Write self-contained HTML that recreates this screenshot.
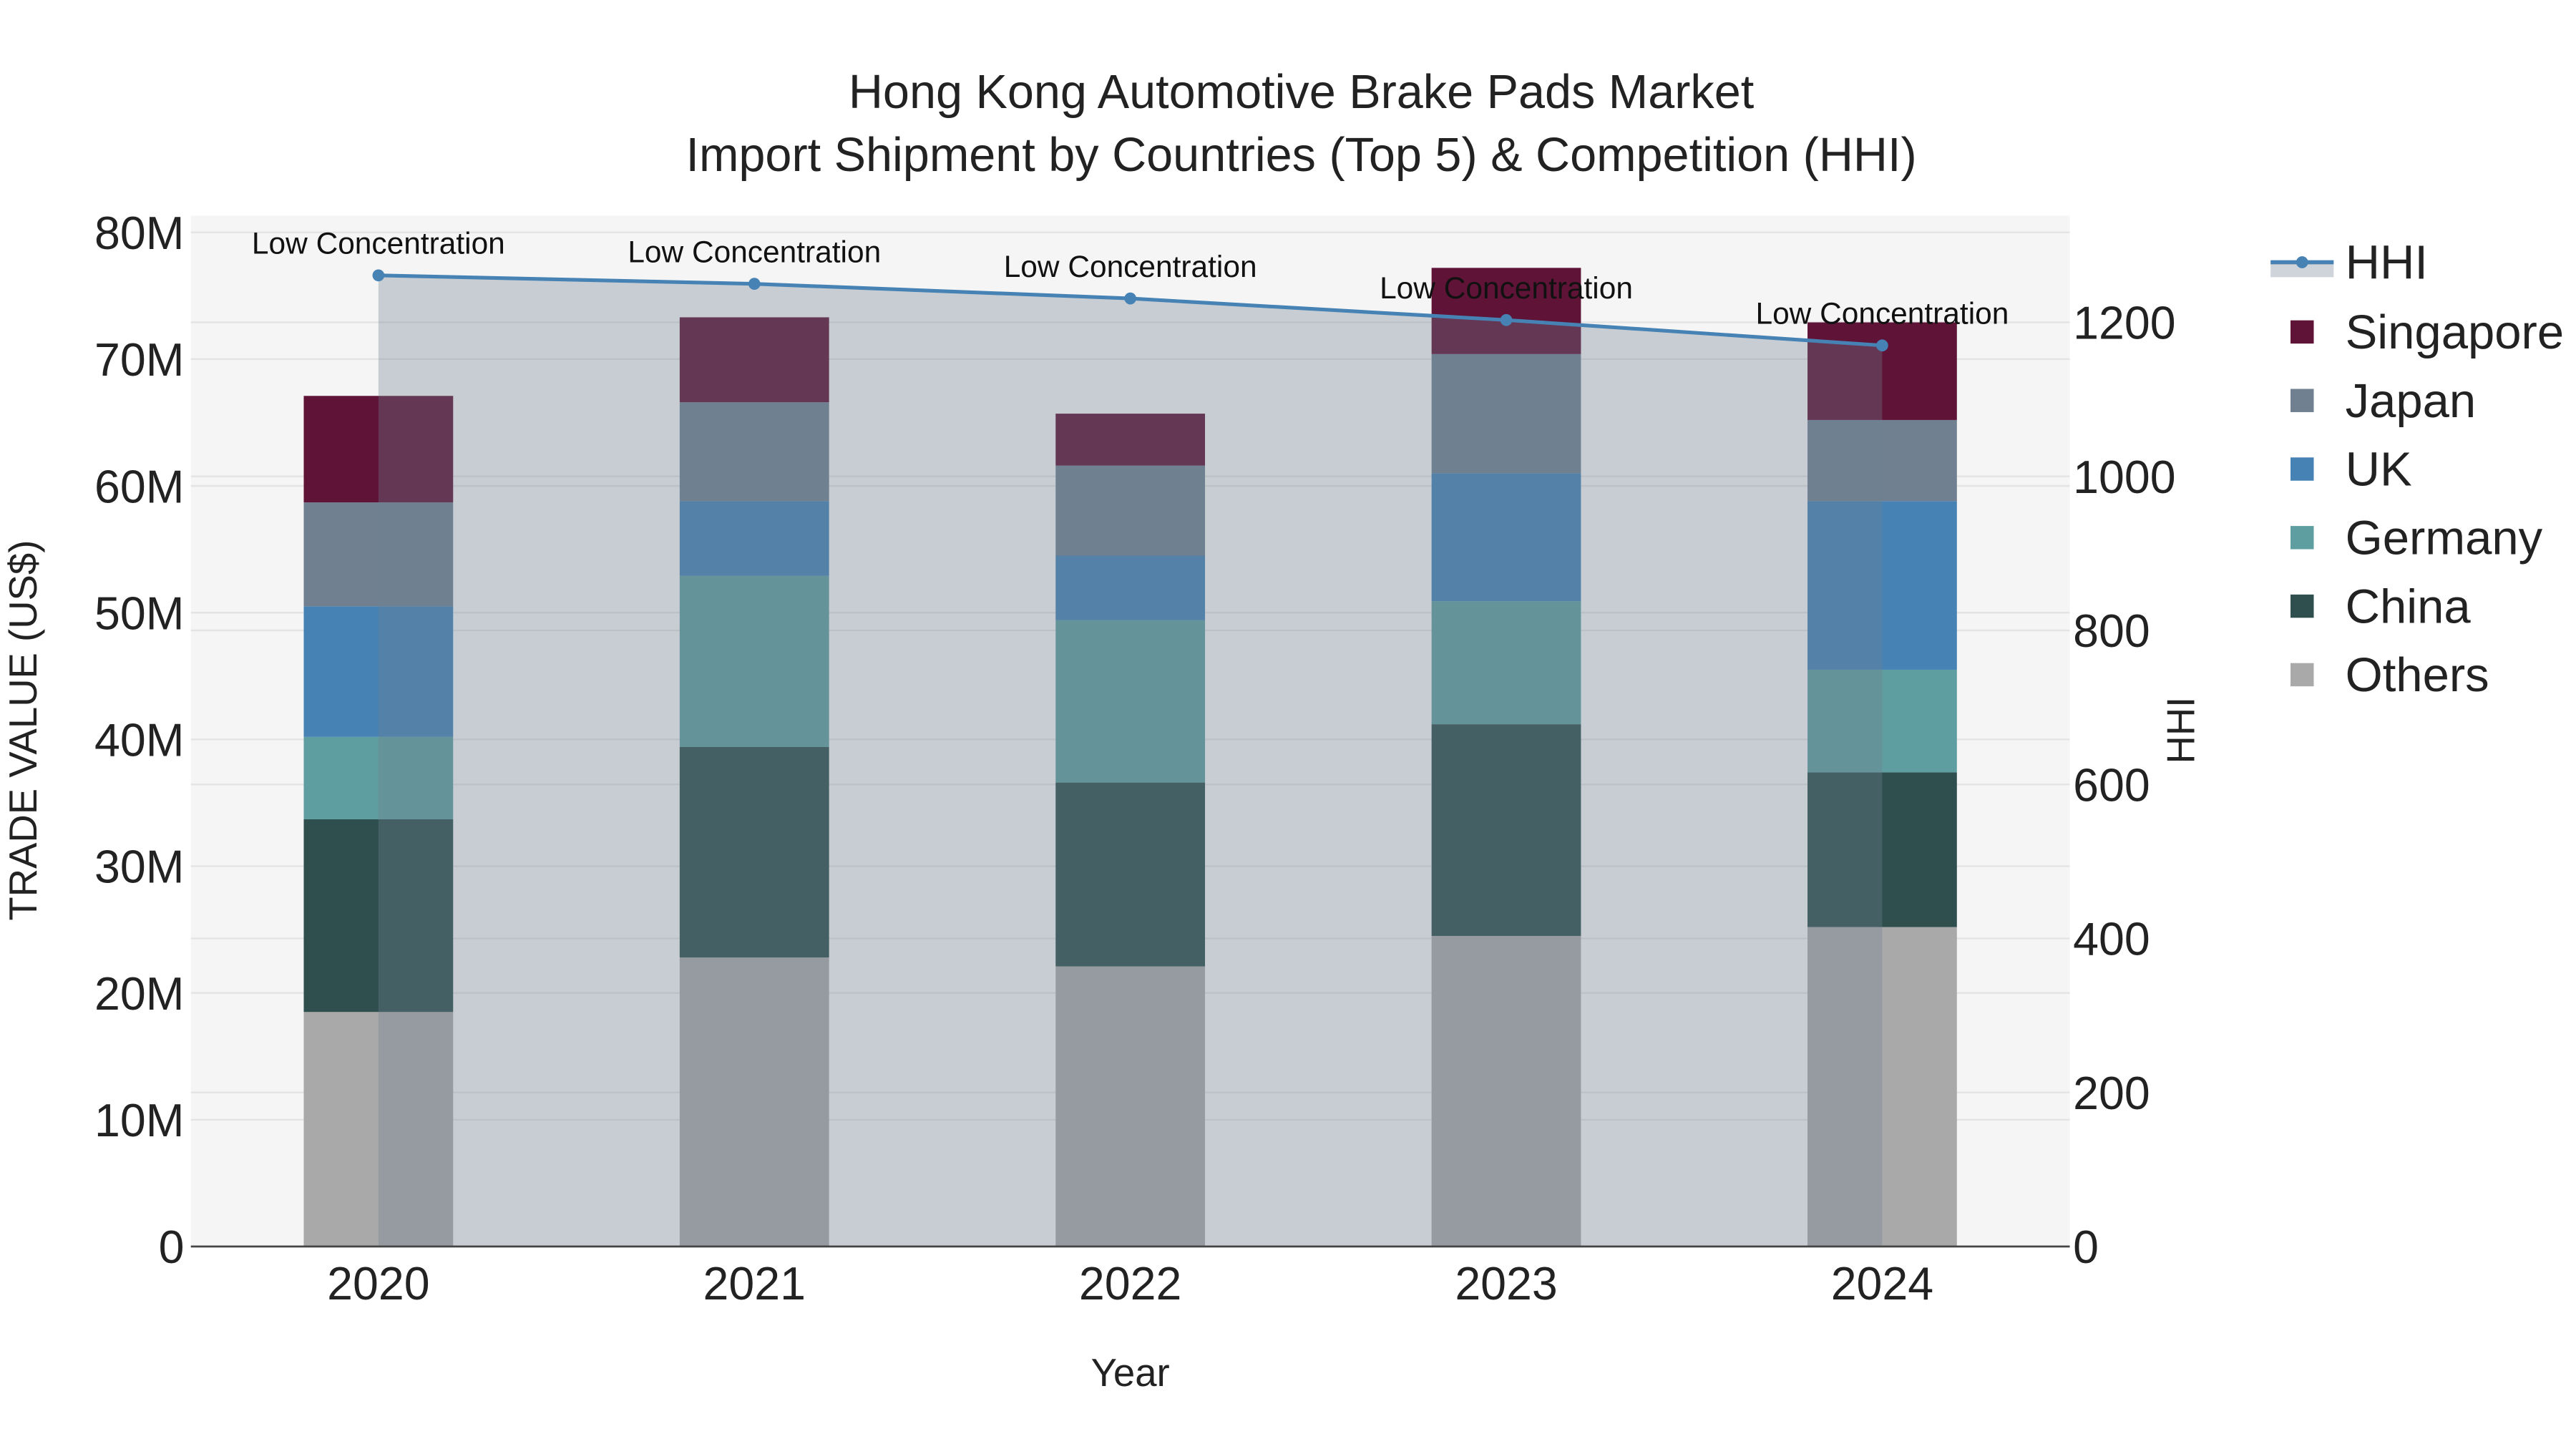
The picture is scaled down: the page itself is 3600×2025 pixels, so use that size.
<!DOCTYPE html>
<html><head><meta charset="utf-8"><style>
html,body{margin:0;padding:0;background:#fff;}
svg{display:block;font-family:"Liberation Sans",sans-serif;}
</style></head><body>
<svg id="chart" width="3600" height="2025" viewBox="0 0 1552 873">
<rect x="0" y="0" width="1552" height="873" fill="#fff"/>
<rect x="115" y="130" width="1132" height="621" fill="#f5f5f5"/>
<g id="grid"></g>
<g id="bars"></g>
<g id="hhi"></g>
<g id="axes"></g>
<text x="784" y="65" text-anchor="middle" font-size="28.7" fill="#222">Hong Kong Automotive Brake Pads Market</text>
<text x="784" y="103" text-anchor="middle" font-size="28.7" fill="#222">Import Shipment by Countries (Top 5) &amp; Competition (HHI)</text>
<text transform="translate(22,440) rotate(-90)" text-anchor="middle" font-size="23.5" fill="#222">TRADE VALUE (US$)</text>
<text transform="translate(1322,440) rotate(-90)" text-anchor="middle" font-size="23.5" fill="#222">HHI</text>
<text x="681" y="835" text-anchor="middle" font-size="23.5" fill="#222">Year</text>
<g id="legend"></g>
</svg>
<script>
const years=["2020","2021","2022","2023","2024"];
const others=[18.5,22.8,22.1,24.5,25.2];
const china=[15.2,16.6,14.5,16.7,12.2];
const germany=[6.5,13.5,12.8,9.7,8.1];
const uk=[10.3,5.9,5.1,10.1,13.3];
const japan=[8.2,7.8,7.1,9.4,6.4];
const singapore=[8.4,6.7,4.1,6.8,7.7];
const hhi=[1261,1250,1231,1203,1170];
const hhiLabels=["Low Concentration","Low Concentration","Low Concentration","Low Concentration","Low Concentration"];
const yTicks=[0,10,20,30,40,50,60,70,80];
const y2Ticks=[0,200,400,600,800,1000,1200];
const NS="http://www.w3.org/2000/svg";
const series=[["Others",others,"#a9a9a9"],["China",china,"#2f4f4f"],["Germany",germany,"#5f9ea0"],["UK",uk,"#4682b4"],["Japan",japan,"#708090"],["Singapore",singapore,"#5f1336"]];
const x=i=>228+i*226.5;
const y=v=>751-v*7.6375;
const y2=v=>751-v*0.464;
function mk(tag,attrs,parent){const e=document.createElementNS(NS,tag);for(const k in attrs)e.setAttribute(k,attrs[k]);parent.appendChild(e);return e;}
const grid=document.getElementById('grid'),bars=document.getElementById('bars'),hg=document.getElementById('hhi'),axes=document.getElementById('axes'),lg=document.getElementById('legend');
yTicks.forEach(t=>{
 const l=mk('line',{x1:115,x2:1247,y1:y(t),y2:y(t),stroke:'#e3e3e3','stroke-width':1},grid);
 
 
 const tx=mk('text',{x:111,y:y(t)+10,'text-anchor':'end','font-size':27.8,fill:'#222'},axes);
 tx.textContent=t===0?'0':t+'M';
 
 
});
y2Ticks.forEach(t=>{
 const l=mk('line',{x1:115,x2:1247,y1:y2(t),y2:y2(t),stroke:'#e3e3e3','stroke-width':1},grid);
 
 
 const tx=mk('text',{x:1249,y:y2(t)+10,'text-anchor':'start','font-size':27.8,fill:'#222'},axes);
 tx.textContent=t;
 
 
});
years.forEach((yr,i)=>{
 let base=0;
 series.forEach(s=>{
  const v=s[1][i];
  const r=mk('rect',{x:x(i)-45,y:y(base+v),width:90,height:y(base)-y(base+v),fill:s[2]},bars);
  
  
  base+=v;
 });
 const tx=mk('text',{x:x(i),y:783,'text-anchor':'middle','font-size':27.8,fill:'#222'},axes);
 tx.textContent=yr;
 
 
});
const ax=mk('line',{x1:115,x2:1247,y1:751,y2:751,stroke:'#444','stroke-width':1.2},axes);


let pts=hhi.map((v,i)=>x(i)+','+y2(v)).join(' ');
const area=mk('polygon',{points:x(0)+',751 '+pts+' '+x(hhi.length-1)+',751',fill:'rgba(112,128,144,0.34)'},hg);


const line=mk('polyline',{points:pts,fill:'none',stroke:'#4682b4','stroke-width':2.2},hg);


hhi.forEach((v,i)=>{
 const c=mk('circle',{cx:x(i),cy:y2(v),r:3.6,fill:'#4682b4'},hg);
 
 
 const t=mk('text',{x:x(i),y:y2(v)-13,'text-anchor':'middle','font-size':18.3,fill:'#111'},hg);
 t.textContent=hhiLabels[i];
 
 
});
const ll=mk('line',{x1:1368,x2:1406,y1:158,y2:158,stroke:'#4682b4','stroke-width':2.5},lg);


const lb=mk('rect',{x:1368,y:159,width:38,height:8,fill:'rgba(112,128,144,0.34)'},lg);


const lc=mk('circle',{cx:1387,cy:158,r:3.6,fill:'#4682b4'},lg);


const lt=mk('text',{x:1413,y:168,'font-size':28.9,fill:'#222'},lg);
lt.textContent='HHI';


series.slice().reverse().forEach((s,k)=>{
 const yy=200+k*41.3;
 const r=mk('rect',{x:1380,y:yy-7,width:14,height:14,fill:s[2]},lg);
 
 
 const t=mk('text',{x:1413,y:yy+10,'font-size':28.9,fill:'#222'},lg);
 t.textContent=s[0];
 
 
});
</script>
</body></html>
